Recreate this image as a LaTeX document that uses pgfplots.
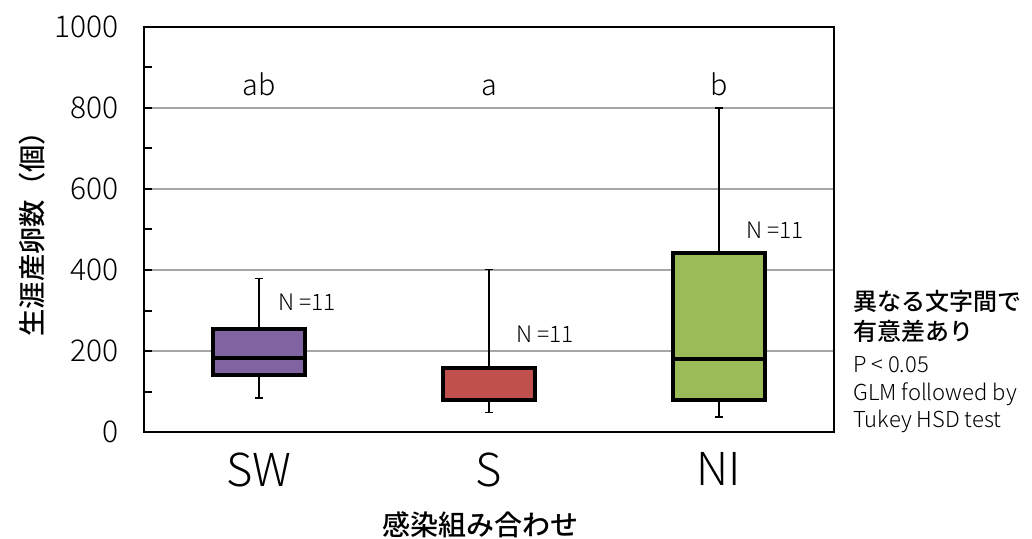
\documentclass[border=0pt]{standalone}
\usepackage{fontspec}
\IfFontExistsTF{Noto Sans CJK JP Light}
  {\setmainfont{Noto Sans CJK JP Light}}
  {\setmainfont{Noto Sans CJK JP}}
\IfFontExistsTF{Noto Sans CJK JP Medium}
  {\newfontfamily\jpbold{Noto Sans CJK JP Medium}}
  {\newfontfamily\jpbold{Noto Sans CJK JP}[FakeBold=1.2]}
\usepackage{pgfplots}
\pgfplotsset{compat=1.18}
\usepgfplotslibrary{statistics}
\definecolor{cSW}{HTML}{8064A2}
\definecolor{cS}{HTML}{C0504D}
\definecolor{cNI}{HTML}{9BBB59}
\definecolor{gridgray}{HTML}{A6A6A6}
\begin{document}
\begin{tikzpicture}
\begin{axis}[
  width=517.5pt, height=303.75pt, scale only axis,
  xmin=-0.5, xmax=2.5, ymin=0, ymax=1000,
  clip=false,
  axis line style={line width=2.2pt, black},
  tick align=inside,
  tick pos=left,
  ytick={0,200,...,1000},
  minor y tick num=1,
  ymajorgrids, grid style={gridgray, line width=0.8pt},
  major tick length=6pt, minor tick length=6pt,
  every tick/.style={black, line width=1.5pt},
  xtick={0,1,2}, xticklabels={SW,S,NI},
  x tick style={draw=none},
  extra x ticks={0.5,1.5}, extra x tick labels={},
  extra x tick style={major tick length=9pt, every tick/.style={black, line width=1.5pt}, grid=none},
  /pgf/number format/assume math mode=true,
  /pgf/number format/1000 sep={},
  yticklabel style={font=\fontsize{22.5}{26}\selectfont, xshift=-15.5pt},
  xticklabel style={font=\fontsize{34}{37}\selectfont, yshift=-12pt},
  ylabel={\jpbold 生涯産卵数（個）},
  ylabel style={font=\fontsize{20.5}{24}\selectfont, at={(axis description cs:-0.162,0.506)}, anchor=center},
  xlabel={\jpbold 感染組み合わせ},
  xlabel style={font=\fontsize{21}{24}\selectfont, at={(axis description cs:0.488,-0.23)}, anchor=center},
  boxplot/draw direction=y,
]
\addplot[fill=cSW, draw=black, line width=2.5pt,
  boxplot/every whisker/.style={line width=0.8pt},
  boxplot/every median/.style={line width=2.5pt},
  boxplot prepared={draw position=0, lower whisker=84, lower quartile=141, median=183, upper quartile=254, upper whisker=378, box extend=0.4, whisker extend=0.035}]
  coordinates {};
\addplot[fill=cS, draw=black, line width=2.5pt,
  boxplot/every whisker/.style={line width=0.8pt},
  boxplot/every median/.style={line width=2.5pt},
  boxplot prepared={draw position=1, lower whisker=49, lower quartile=79, median=80, upper quartile=158, upper whisker=402, box extend=0.4, whisker extend=0.035}]
  coordinates {};
\addplot[fill=cNI, draw=black, line width=2.5pt,
  boxplot/every whisker/.style={line width=0.8pt},
  boxplot/every median/.style={line width=2.5pt},
  boxplot prepared={draw position=2, lower whisker=37, lower quartile=79, median=180, upper quartile=442, upper whisker=800, box extend=0.4, whisker extend=0.035}]
  coordinates {};
% significance letters
\node[anchor=base, font=\fontsize{21.5}{25}\selectfont] at (axis cs:0,830) {ab};
\node[anchor=base, font=\fontsize{21.5}{25}\selectfont] at (axis cs:1,830) {a};
\node[anchor=base, font=\fontsize{21.5}{25}\selectfont] at (axis cs:2,830) {b};
% sample sizes
\node[anchor=base west, inner sep=0pt, font=\fontsize{17}{20}\selectfont] at (axis cs:0.0826,299) {N =11};
\node[anchor=base west, inner sep=0pt, font=\fontsize{17}{20}\selectfont] at (axis cs:1.117,220) {N =11};
\node[anchor=base west, inner sep=0pt, font=\fontsize{17}{20}\selectfont] at (axis cs:2.117,479) {N =11};
% annotation
\node[anchor=base west, inner sep=0pt, font=\fontsize{18}{22}\selectfont\jpbold] at (axis cs:2.5826,301) {異なる文字間で};
\node[anchor=base west, inner sep=0pt, font=\fontsize{18}{22}\selectfont\jpbold] at (axis cs:2.5826,227) {有意差あり};
\node[anchor=base west, inner sep=0pt, font=\fontsize{16.5}{19}\selectfont] at (axis cs:2.5826,148) {P < 0.05};
\node[anchor=base west, inner sep=0pt, font=\fontsize{16.5}{19}\selectfont] at (axis cs:2.5826,77) {GLM followed by};
\node[anchor=base west, inner sep=0pt, font=\fontsize{16.5}{19}\selectfont] at (axis cs:2.5826,10) {Tukey HSD test};
\end{axis}
\pgfresetboundingbox
\path[use as bounding box] (-108pt,-80.25pt) rectangle (666pt,324pt);
\end{tikzpicture}
\end{document}
